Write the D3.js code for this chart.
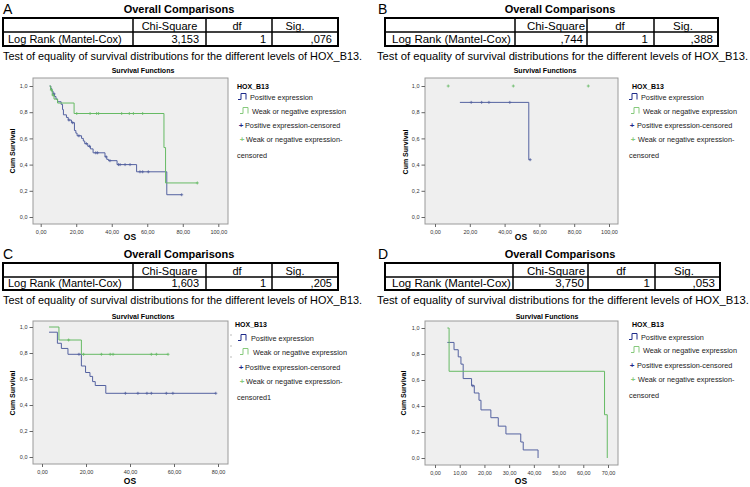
<!DOCTYPE html>
<html><head><meta charset="utf-8">
<script src="https://cdn.jsdelivr.net/npm/d3@7"></script>
<style>body{margin:0;background:#fff}svg{display:block}text{font-family:Arial,"Liberation Sans",sans-serif}</style>
</head><body><svg id="c" width="750" height="487"></svg>
<script>
// ---------- DATA ----------
const panelLetters = ["A", "B", "C", "D"];
const tableTitle = "Overall Comparisons";
const tableHeaders = ["Chi-Square", "df", "Sig."];
const rowLabel = "Log Rank (Mantel-Cox)";
const chiSquare = ["3,153", ",744", "1,603", "3,750"];
const dfValues = ["1", "1", "1", "1"];
const sigValues = [",076", ",388", ",205", ",053"];
const captionText = "Test of equality of survival distributions for the different levels of HOX_B13.";
const chartTitle = "Survival Functions";
const legendTitle = "HOX_B13";
const legendLabels = ["Positive expression", "Weak or negative expression", "Positive expression-censored", "Weak or negative expression-"];
const legendWrap = ["censored", "censored", "censored1", "censored"];
const yTicks = [0, 0.2, 0.4, 0.6, 0.8, 1.0];
const xTicksA = [0, 20, 40, 60, 80, 100];
const xTicksB = [0, 20, 40, 60, 80, 100];
const xTicksC = [0, 20, 40, 60, 80];
const xTicksD = [0, 10, 20, 30, 40, 50, 60, 70];

// Kaplan-Meier steps [time, survival]
const aPositive = [[5.0,1.0],[5.7,0.98],[6.3,0.96],[7.0,0.94],[7.8,0.92],[8.6,0.90],[9.5,0.88],[11.5,0.86],[12.3,0.82],[12.8,0.78],[14.5,0.76],[15.5,0.74],[17.3,0.72],[19.0,0.66],[19.8,0.64],[20.5,0.62],[23.0,0.60],[24.0,0.58],[24.8,0.56],[26.5,0.54],[28.0,0.52],[29.5,0.49],[36.2,0.46],[37.2,0.44],[38.2,0.43],[43.0,0.40],[54.0,0.345],[71.0,0.17],[79.4,0.17]];
const aPositiveCens = [[7.5,0.94],[15.9,0.74],[18.0,0.72],[21.5,0.62],[25.7,0.56],[27.5,0.54],[31.0,0.49],[32.0,0.49],[36.8,0.46],[39.0,0.43],[43.8,0.40],[44.7,0.40],[47.5,0.40],[50.3,0.40],[55.9,0.345],[57.4,0.345],[60.6,0.345],[79.4,0.17]];
const aWeak = [[5.0,1.0],[5.6,0.97],[6.5,0.93],[7.5,0.90],[9.5,0.87],[18.8,0.79],[69.4,0.53],[70.3,0.26],[88.2,0.26]];
const aWeakCens = [[6.0,0.97],[7.0,0.93],[20.3,0.79],[27.8,0.79],[31.5,0.79],[32.6,0.79],[45.6,0.79],[49.9,0.79],[52.2,0.79],[57.4,0.79],[88.2,0.26]];

const bPositive = [[14.3,0.875],[53.9,0.4375],[54.7,0.4375]];
const bPositiveCens = [[20.8,0.875],[26.8,0.875],[31.0,0.875],[43.0,0.875],[54.7,0.4375]];
const bWeak = [];
const bWeakCens = [[7.6,1.0],[45.0,1.0],[88.1,1.0]];

const cPositive = [[3.2,0.96],[7.0,0.875],[8.8,0.835],[11.8,0.79],[17.9,0.70],[19.8,0.65],[21.8,0.62],[23.0,0.58],[24.2,0.55],[29.0,0.49],[79.0,0.49]];
const cPositiveCens = [[16.8,0.79],[37.9,0.49],[43.6,0.49],[47.7,0.49],[49.7,0.49],[56.5,0.49],[59.5,0.49],[79.0,0.49]];
const cWeak = [[3.2,1.0],[7.7,0.90],[17.9,0.79],[57.3,0.79]];
const cWeakCens = [[12.1,0.90],[18.9,0.79],[27.0,0.79],[31.0,0.79],[32.3,0.79],[49.7,0.79],[52.0,0.79],[57.3,0.79]];

const dPositive = [[5.0,0.889],[7.7,0.833],[9.4,0.778],[10.5,0.722],[11.4,0.611],[14.8,0.556],[15.9,0.50],[17.8,0.444],[18.6,0.37],[22.6,0.31],[25.6,0.245],[28.7,0.185],[34.7,0.123],[35.7,0.062],[41.7,0.0]];
const dPositiveCens = [[15.3,0.556]];
const dWeak = [[5.0,1.0],[5.7,0.667],[68.6,0.333],[69.7,0.0]];
const dWeakCens = [];

// ---------- LAYOUT ----------
const BLUE = "#5462a0", GREEN = "#66ba64", BLUE_ICON = "#1d2a8a", GREEN_ICON = "#86c97c";
const panels = [
  {letter:[3,14], title:[179,13], tbl:{x0:3,x1:338,y:[18,32,46],cols:[133,206,272],fs:11,hx:[169.5,237,295],vx:[199,266,332],lx:8}, cap:[3,59.5,359],
   sf:[143,73], plot:[33,228,78,224], xd:[0,100], xr:[40.7,218.3], yr:[217,86], cum:[15,151], os:[130,240], xlabY:233.5,
   ticks:xTicksA, leg:{hx:237,hy:89,ix:238,tx:250,px:241,ptx:245,cx:237,ys:[99.5,113.5,127.5,141.5,157.5]}, dashes:[],
   pos:aPositive,posC:aPositiveCens,weak:aWeak,weakC:aWeakCens},
  {letter:[378,14], title:[560,13], tbl:{x0:385,x1:718,y:[18,32,46],cols:[515,587,654],fs:11.5,hx:[556,620,683],vx:[583,648,713],lx:392}, cap:[377,59.5,371],
   sf:[545,73], plot:[425,618,78,224], xd:[0,100], xr:[435,609], yr:[217,86], cum:[408,152], os:[521,240], xlabY:233.5,
   ticks:xTicksB, leg:{hx:632,hy:89,ix:629,tx:641,px:632,ptx:637,cx:629,ys:[99.5,113.5,127.5,141.5,157.5]}, dashes:[],
   pos:bPositive,posC:bPositiveCens,weak:bWeak,weakC:bWeakCens},
  {letter:[3,259], title:[179,258], tbl:{x0:3,x1:338,y:[263,277,290],cols:[133,206,272],fs:11,hx:[169.5,237,295],vx:[199,266,332],lx:8}, cap:[3,303.5,359],
   sf:[143,318.5], plot:[33,228,321,464], xd:[0,80], xr:[42,218], yr:[457,327], cum:[15,393], os:[130,484], xlabY:473.5,
   ticks:xTicksC, leg:{hx:235,hy:327,ix:238,tx:251,px:241,ptx:245,cx:237,ys:[340.5,354.5,369.5,384,399.5]}, dashes:[335,346,357],
   pos:cPositive,posC:cPositiveCens,weak:cWeak,weakC:cWeakCens},
  {letter:[378,259], title:[560,258], tbl:{x0:385,x1:720,y:[263,277,290],cols:[513,588,655],fs:11.5,hx:[556,621,684],vx:[584,650,715],lx:392}, cap:[377,303.5,372],
   sf:[547,318.5], plot:[425,618,321,465], xd:[0,70], xr:[435,608], yr:[458,328], cum:[406,393], os:[521,484], xlabY:474.5,
   ticks:xTicksD, leg:{hx:632,hy:327,ix:629,tx:641,px:632,ptx:637,cx:629,ys:[339.5,352.5,367.5,381.5,397.5]}, dashes:[],
   pos:dPositive,posC:dPositiveCens,weak:dWeak,weakC:dWeakCens}
];

const svg = d3.select("#c");
const fmtY = d => d3.format(".1f")(d).replace(".", ",");
const fmtX = d => d3.format(".2f")(d).replace(".", ",");
const LFS = 7.3;

panels.forEach((p, i) => {
  const g = svg.append("g");
  g.append("text").attr("x", p.letter[0]).attr("y", p.letter[1]).attr("font-size", 14).text(panelLetters[i]);
  g.append("text").attr("x", p.title[0]).attr("y", p.title[1]).attr("text-anchor", "middle")
    .attr("font-size", 11).attr("font-weight", "bold").text(tableTitle);
  const t = p.tbl;
  g.append("rect").attr("x", t.x0).attr("y", t.y[0]).attr("width", t.x1 - t.x0).attr("height", t.y[2] - t.y[0])
    .attr("fill", "none").attr("stroke", "#000").attr("stroke-width", 2);
  g.append("line").attr("x1", t.x0).attr("x2", t.x1).attr("y1", t.y[1]).attr("y2", t.y[1]).attr("stroke", "#000").attr("stroke-width", 1.5);
  t.cols.forEach(cx => g.append("line").attr("x1", cx).attr("x2", cx).attr("y1", t.y[0]).attr("y2", t.y[2]).attr("stroke", "#000").attr("stroke-width", 1.5));
  tableHeaders.forEach((h, k) => g.append("text").attr("x", t.hx[k]).attr("y", t.y[1] - 2.5).attr("text-anchor", "middle").attr("font-size", t.fs).text(h));
  g.append("text").attr("x", t.lx).attr("y", t.y[2] - 3).attr("font-size", t.fs).text(rowLabel);
  [chiSquare[i], dfValues[i], sigValues[i]].forEach((v, k) =>
    g.append("text").attr("x", t.vx[k]).attr("y", t.y[2] - 3).attr("text-anchor", "end").attr("font-size", t.fs).text(v));
  g.append("text").attr("x", p.cap[0]).attr("y", p.cap[1]).attr("font-size", 11).attr("textLength", p.cap[2])
    .attr("lengthAdjust", "spacingAndGlyphs").text(captionText);
  g.append("text").attr("x", p.sf[0]).attr("y", p.sf[1]).attr("text-anchor", "middle").attr("font-size", 7)
    .attr("font-weight", "bold").text(chartTitle);
  const [px0, px1, py0, py1] = p.plot;
  g.append("rect").attr("x", px0).attr("y", py0).attr("width", px1 - px0).attr("height", py1 - py0)
    .attr("fill", "#efefef").attr("stroke", "#9a9a9a").attr("stroke-width", 1);
  const x = d3.scaleLinear().domain(p.xd).range(p.xr);
  const y = d3.scaleLinear().domain([0, 1]).range(p.yr);
  const ya = g.append("g").attr("transform", `translate(${px0},0)`)
    .call(d3.axisLeft(y).tickValues(yTicks).tickFormat(fmtY).tickSize(3.5).tickPadding(2));
  ya.select(".domain").remove();
  ya.selectAll("line").attr("stroke", "#666");
  ya.selectAll("text").attr("font-size", 5.5).attr("fill", "#333").attr("font-family", "Arial, 'Liberation Sans', sans-serif");
  const xa = g.append("g").attr("transform", `translate(0,${py1})`)
    .call(d3.axisBottom(x).tickValues(p.ticks).tickFormat(fmtX).tickSize(3).tickPadding(2));
  xa.select(".domain").remove();
  xa.selectAll("line").attr("stroke", "#666");
  xa.selectAll("text").attr("font-size", 5.5).attr("fill", "#333").attr("font-family", "Arial, 'Liberation Sans', sans-serif")
    .attr("dy", null).attr("y", p.xlabY - py1);
  g.append("text").attr("transform", `translate(${p.cum[0]},${p.cum[1]}) rotate(-90)`).attr("text-anchor", "middle")
    .attr("font-size", 7).attr("font-weight", "bold").text("Cum Survival");
  g.append("text").attr("x", p.os[0]).attr("y", p.os[1]).attr("text-anchor", "middle")
    .attr("font-size", 8.5).attr("font-weight", "bold").text("OS");
  const line = d3.line().x(d => x(d[0])).y(d => y(d[1])).curve(d3.curveStepAfter);
  if (p.pos.length) g.append("path").attr("d", line(p.pos)).attr("fill", "none").attr("stroke", BLUE).attr("stroke-width", 1);
  if (p.weak.length) g.append("path").attr("d", line(p.weak)).attr("fill", "none").attr("stroke", GREEN).attr("stroke-width", 1);
  const plus = (sel, data, col) => sel.selectAll(null).data(data).enter().append("path")
    .attr("d", d => `M${x(d[0]) - 1.5},${y(d[1])}H${x(d[0]) + 1.5}M${x(d[0])},${y(d[1]) - 1.5}V${y(d[1]) + 1.5}`)
    .attr("stroke", col).attr("stroke-width", 0.8);
  plus(g, p.posC, BLUE);
  plus(g, p.weakC, GREEN);
  // legend
  const L = p.leg;
  p.dashes.forEach(dy => g.append("line").attr("x1", px1 + 2).attr("x2", px1 + 4).attr("y1", dy).attr("y2", dy).attr("stroke", "#aaa").attr("stroke-width", 0.8));
  g.append("text").attr("x", L.hx).attr("y", L.hy).attr("font-size", 7).attr("font-weight", "bold").text(legendTitle);
  const icon = (ix, iy, col) => g.append("path")
    .attr("d", `M${ix},${iy}H${ix + 3}V${iy - 6}H${ix + 8}V${iy}`).attr("fill", "none").attr("stroke", col).attr("stroke-width", 1);
  icon(L.ix, L.ys[0], BLUE_ICON);
  g.append("text").attr("x", L.tx).attr("y", L.ys[0]).attr("font-size", LFS).attr("fill", "#222").text(legendLabels[0]);
  icon(L.ix + 2, L.ys[1], GREEN_ICON);
  g.append("text").attr("x", L.tx + 2).attr("y", L.ys[1]).attr("font-size", LFS).attr("fill", "#222").text(legendLabels[1]);
  g.append("text").attr("x", L.px).attr("y", L.ys[2]).attr("text-anchor", "middle").attr("font-size", 8).attr("font-weight", "bold").attr("fill", BLUE_ICON).text("+");
  g.append("text").attr("x", L.ptx).attr("y", L.ys[2]).attr("font-size", LFS).attr("fill", "#222").text(legendLabels[2]);
  g.append("text").attr("x", L.px + 1).attr("y", L.ys[3]).attr("text-anchor", "middle").attr("font-size", 8).attr("font-weight", "bold").attr("fill", GREEN_ICON).text("+");
  g.append("text").attr("x", L.ptx + 1).attr("y", L.ys[3]).attr("font-size", LFS).attr("fill", "#222").text(legendLabels[3]);
  g.append("text").attr("x", L.cx).attr("y", L.ys[4]).attr("font-size", LFS).attr("fill", "#222").text(legendWrap[i]);
});
</script></body></html>
